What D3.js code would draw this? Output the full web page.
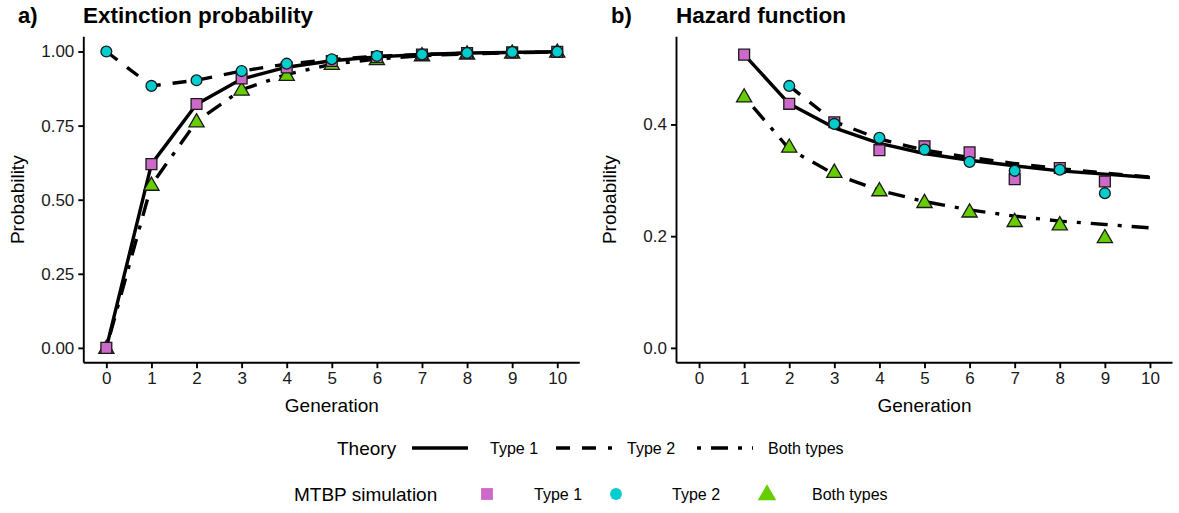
<!DOCTYPE html>
<html>
<head>
<meta charset="utf-8">
<script src="https://cdn.jsdelivr.net/npm/d3@7"></script>
<style>
  html, body { margin: 0; padding: 0; background: #fff; }
  svg { display: block; font-family: "Liberation Sans", Arial, sans-serif; }
</style>
</head>
<body>
<svg id="chart" width="1179" height="513"></svg>
<script>
// ---------- data ----------
const generations = [0, 1, 2, 3, 4, 5, 6, 7, 8, 9, 10];
const xTicks = [0, 1, 2, 3, 4, 5, 6, 7, 8, 9, 10];
const yTicksA = [0, 0.25, 0.5, 0.75, 1.0];
const yTickLabelsA = ["0.00", "0.25", "0.50", "0.75", "1.00"];
const yTicksB = [0, 0.2, 0.4];
const yTickLabelsB = ["0.0", "0.2", "0.4"];

// Panel a: extinction probability (theory)
const extTheoryType1 = [0, 0.62, 0.822, 0.907, 0.947, 0.969, 0.982, 0.990, 0.995, 0.997, 0.999];
const extTheoryType2 = [1.0, 0.884, 0.903, 0.934, 0.958, 0.973, 0.984, 0.990, 0.994, 0.997, 0.998];
const extTheoryBoth  = [0, 0.55, 0.764, 0.871, 0.923, 0.957, 0.975, 0.986, 0.992, 0.996, 0.998];
// Panel a: simulation
const extSimType1 = [0, 0.62, 0.823, 0.909, 0.946, 0.968, 0.981, 0.990, 0.995, 0.997, 0.999];
const extSimType2 = [1.0, 0.884, 0.903, 0.934, 0.959, 0.974, 0.985, 0.990, 0.995, 0.998, 0.999];
const extSimBoth  = [0, 0.55, 0.764, 0.871, 0.921, 0.958, 0.974, 0.987, 0.993, 0.996, 0.999];

// Panel b: hazard function (theory)
const hazTheoryType1 = [null, 0.525, 0.437, 0.394, 0.366, 0.348, 0.336, 0.326, 0.317, 0.311, 0.305];
const hazTheoryType2 = [null, null, 0.469, 0.405, 0.374, 0.354, 0.341, 0.330, 0.321, 0.313, 0.306];
const hazTheoryBoth  = [null, 0.45, 0.356, 0.311, 0.282, 0.262, 0.247, 0.236, 0.227, 0.221, 0.215];
// Panel b: simulation
const hazSimType1 = [null, 0.525, 0.437, 0.404, 0.354, 0.361, 0.350, 0.302, 0.322, 0.298, null];
const hazSimType2 = [null, null, 0.469, 0.401, 0.376, 0.355, 0.333, 0.317, 0.319, 0.277, null];
const hazSimBoth  = [null, 0.45, 0.360, 0.315, 0.282, 0.261, 0.244, 0.227, 0.221, 0.198, null];

const seriesNames = ["Type 1", "Type 2", "Both types"];
const fills = ["#CD69C9", "#00CDCD", "#66CD00"];

// ---------- styles ----------
const LW = 3.4;
const dashes = ["none", "14 12", "4 10 17 10"];
const svg = d3.select("#chart");
const font = '"Liberation Sans", Arial, sans-serif';

function symbolFor(i, size) {
  const types = [d3.symbolSquare, d3.symbolCircle, d3.symbolTriangle];
  return d3.symbol().type(types[i]).size(size)();
}
const symSizes = [118, 92, 100];

function drawPanel(opts) {
  const { x0, x1, yDomain, ticks, tickLabels, theory, sims, tag, title, tagX, titleX, ylabX } = opts;
  const top = 36.7, bottom = 362.7;
  const x = d3.scaleLinear().domain([-0.5, 10.5]).range([x0, x1]);
  const y = d3.scaleLinear().domain(yDomain).range([bottom, top]);
  const g = svg.append("g");

  // axes
  const xAxis = d3.axisBottom(x).tickValues(xTicks).tickSize(5.5).tickPadding(4).tickFormat(d3.format("d"));
  const gx = g.append("g").attr("transform", `translate(0,${bottom})`).call(xAxis);
  const yAxis = d3.axisLeft(y).tickValues(ticks).tickSize(5.5).tickPadding(4)
    .tickFormat((d, i) => tickLabels[i]);
  const gy = g.append("g").attr("transform", `translate(${x0},0)`).call(yAxis);
  [gx, gy].forEach(ax => {
    ax.select(".domain").attr("stroke", "#000").attr("stroke-width", 1.9);
    ax.selectAll(".tick line").attr("stroke", "#000").attr("stroke-width", 1.9);
    ax.selectAll(".tick text").attr("fill", "#1a1a1a").style("font-size", "17px").style("font-family", font);
  });
  gx.select(".domain").attr("d", `M${x0},0H${x1}`);
  gy.select(".domain").attr("d", `M0,${bottom}V${top}`);

  // axis titles
  g.append("text").attr("x", (x0 + x1) / 2).attr("y", 412).attr("text-anchor", "middle")
    .style("font-size", "19px").attr("fill", "#000").text("Generation");
  g.append("text").attr("transform", `translate(${ylabX},${(top + bottom) / 2}) rotate(-90)`)
    .attr("text-anchor", "middle").style("font-size", "19px").attr("fill", "#000").text("Probability");

  // titles
  g.append("text").attr("x", tagX).attr("y", 23).style("font-size", "22px").style("font-weight", "bold").text(tag);
  g.append("text").attr("x", titleX).attr("y", 23).style("font-size", "22.5px").style("font-weight", "bold").text(title);

  // theory lines
  const line = d3.line().defined(d => d[1] !== null).x(d => x(d[0])).y(d => y(d[1]));
  theory.forEach((vals, i) => {
    g.append("path").datum(generations.map((gen, k) => [gen, vals[k]]))
      .attr("d", line).attr("fill", "none").attr("stroke", "#000")
      .attr("stroke-width", LW).attr("stroke-dasharray", dashes[i])
      .attr("stroke-linejoin", "round");
  });

  // simulation points: Both, Type 1, Type 2 (draw order)
  [2, 0, 1].forEach(i => {
    const pts = generations.map((gen, k) => [gen, sims[i][k]]).filter(d => d[1] !== null);
    g.selectAll(null).data(pts).enter().append("path")
      .attr("d", symbolFor(i, symSizes[i]))
      .attr("transform", d => `translate(${x(d[0])},${y(d[1]) + (i === 2 ? 1 : 0)})`)
      .attr("fill", fills[i]).attr("stroke", "#1a1a1a").attr("stroke-width", 1.3);
  });
}

drawPanel({
  x0: 83.8, x1: 579.8, yDomain: [-0.05, 1.05], ticks: yTicksA, tickLabels: yTickLabelsA,
  theory: [extTheoryType1, extTheoryType2, extTheoryBoth],
  sims: [extSimType1, extSimType2, extSimBoth],
  tag: "a)", title: "Extinction probability", tagX: 18, titleX: 83, ylabX: 24
});
const hazMax = 0.5306;
drawPanel({
  x0: 676.5, x1: 1172.5, yDomain: [-0.05 * hazMax, 1.05 * hazMax], ticks: yTicksB, tickLabels: yTickLabelsB,
  theory: [hazTheoryType1, hazTheoryType2, hazTheoryBoth],
  sims: [hazSimType1, hazSimType2, hazSimBoth],
  tag: "b)", title: "Hazard function", tagX: 611, titleX: 676, ylabX: 616
});

// ---------- legends ----------
const leg = svg.append("g");
const row1Y = 448;
leg.append("text").attr("x", 337).attr("y", row1Y + 6.5).style("font-size", "19px").text("Theory");
const lineKeyX = [412, 556, 697];
const lineLabX = [490, 627, 768];
seriesNames.forEach((nm, i) => {
  leg.append("line").attr("x1", lineKeyX[i]).attr("x2", lineKeyX[i] + 56)
    .attr("y1", row1Y).attr("y2", row1Y).attr("stroke", "#000").attr("stroke-width", LW)
    .attr("stroke-dasharray", dashes[i]);
  leg.append("text").attr("x", lineLabX[i]).attr("y", row1Y + 5.5).style("font-size", "16px").text(nm);
});
const row2Y = 494;
leg.append("text").attr("x", 294).attr("y", row2Y + 6.5).style("font-size", "19px").text("MTBP simulation");
const ptKeyX = [487, 616, 767];
const ptLabX = [534, 672, 812];
seriesNames.forEach((nm, i) => {
  leg.append("path").attr("d", symbolFor(i, [140, 110, 150][i]))
    .attr("transform", `translate(${ptKeyX[i]},${row2Y + (i === 2 ? 1 : 0)})`).attr("fill", fills[i]);
  leg.append("text").attr("x", ptLabX[i]).attr("y", row2Y + 5.5).style("font-size", "16px").text(nm);
});
</script>
</body>
</html>
